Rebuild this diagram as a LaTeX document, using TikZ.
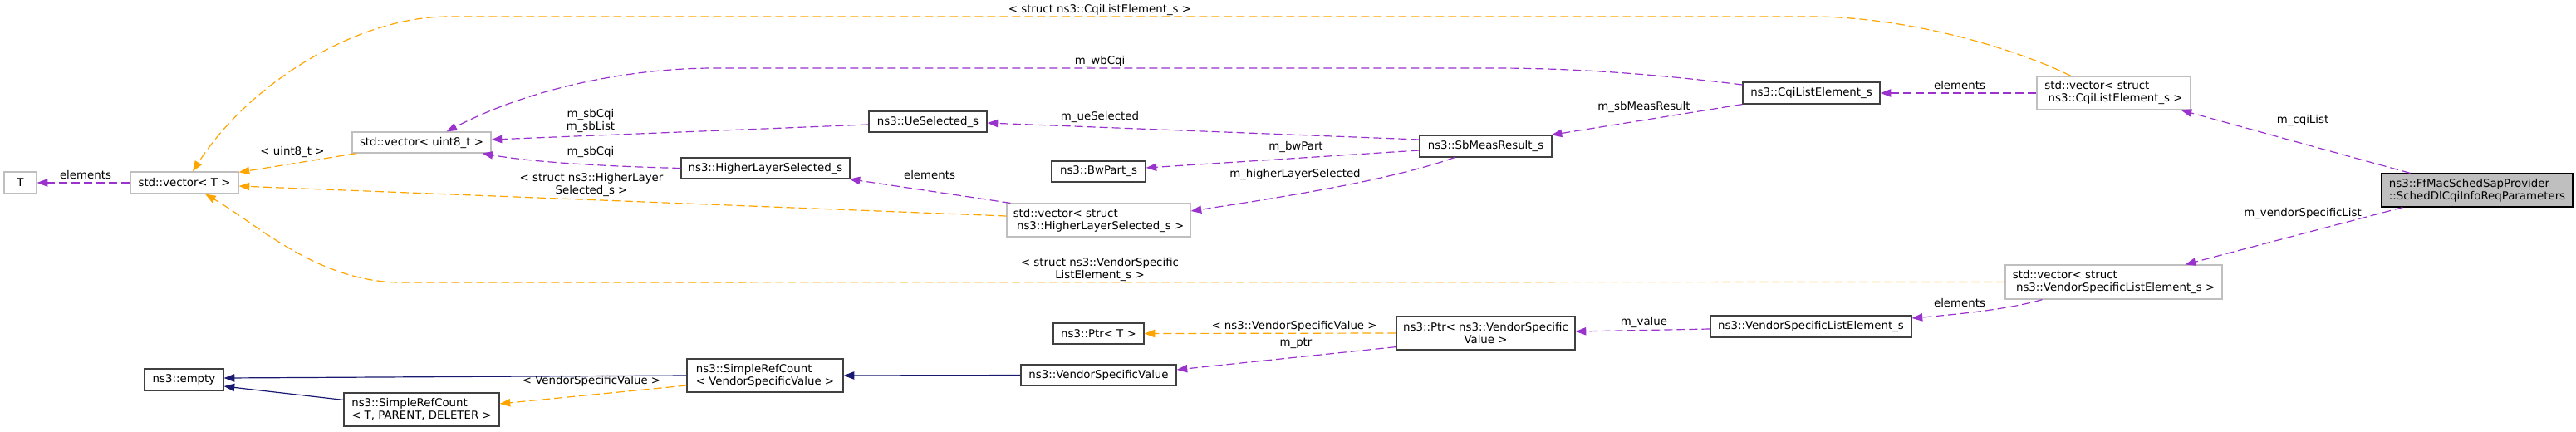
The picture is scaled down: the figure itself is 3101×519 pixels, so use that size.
\documentclass[tikz,border=0pt]{standalone}
\usepackage{fontspec}
\setmainfont{DejaVu Sans}
\usetikzlibrary{arrows.meta,calc}
\definecolor{pur}{HTML}{9A32CD}
\definecolor{org}{HTML}{FFA500}
\definecolor{nav}{HTML}{191970}
\definecolor{gbd}{HTML}{BFBFBF}
\definecolor{dbd}{HTML}{404040}
\begin{document}
\begin{tikzpicture}[x=0.75pt,y=-0.75pt,
  font=\fontsize{10}{11.25}\selectfont,
  sz/.style 2 args={minimum width=#1*0.75pt, minimum height=#2*0.75pt},
  cls/.style={draw=dbd, line width=0.9pt, inner sep=0pt, fill=white},
  tpl/.style={draw=gbd, line width=0.9pt, inner sep=0pt, fill=white},
  tip/.style={-{Triangle[length=9.5pt,width=7pt]}},
  pe/.style={draw=pur, line width=0.9pt, dash pattern=on 7.5pt off 3.75pt, tip},
  oe/.style={draw=org, line width=0.9pt, dash pattern=on 7.5pt off 3.75pt, tip},
  ne/.style={draw=nav, line width=0.9pt, tip},
  lab/.style={inner sep=0pt, align=center}]
\useasboundingbox (0,0) rectangle (3101,519);

% nodes
\node[tpl,sz={39}{26}] (T) at (24.5,220) {T};
\node[tpl,sz={130}{26}] (vecT) at (222,220) {std::vector< T >};
\node[tpl,sz={167}{25}] (u8) at (507.5,171.5) {std::vector< uint8\_t >};
\node[cls,sz={203}{25}] (hls) at (921.5,202.5) {ns3::HigherLayerSelected\_s};
\node[cls,sz={142}{25}] (ue) at (1117,146.5) {ns3::UeSelected\_s};
\node[cls,sz={113}{25}] (bw) at (1322.5,206.5) {ns3::BwPart\_s};
\node[tpl,sz={221}{40},align=left] (hlv) at (1322.5,265) {std::vector< struct\\\hspace*{3.2pt}ns3::HigherLayerSelected\_s >};
\node[cls,sz={109}{25}] (ptrT) at (1322.5,401.5) {ns3::Ptr< T >};
\node[cls,sz={187}{25}] (vsv) at (1322.5,451.5) {ns3::VendorSpecificValue};
\node[cls,sz={188}{40},align=left] (srcv) at (921,452) {ns3::SimpleRefCount\\< VendorSpecificValue >};
\node[cls,sz={187}{40},align=left] (srct) at (507.5,493) {ns3::SimpleRefCount\\< T, PARENT, DELETER >};
\node[cls,sz={95}{26}] (empty) at (221.5,457) {ns3::empty};
\node[cls,sz={159}{26}] (sb) at (1788.5,176) {ns3::SbMeasResult\_s};
\node[cls,sz={215}{40},align=center] (ptrv) at (1788.5,401) {ns3::Ptr< ns3::VendorSpecific\\Value >};
\node[cls,sz={165}{26}] (cqe) at (2180.5,112) {ns3::CqiListElement\_s};
\node[cls,sz={242}{26}] (vse) at (2180,393) {ns3::VendorSpecificListElement\_s};
\node[tpl,sz={185}{40},align=left] (cqv) at (2544.5,112) {std::vector< struct\\\hspace*{3.2pt}ns3::CqiListElement\_s >};
\node[tpl,sz={261}{41},align=left] (vslv) at (2544.5,339.5) {std::vector< struct\\\hspace*{3.2pt}ns3::VendorSpecificListElement\_s >};
\node[cls,draw=black,fill=gbd,sz={230}{40},align=left] (ff) at (2982,229) {ns3::FfMacSchedSapProvider\\::SchedDlCqiInfoReqParameters};

% edges
\draw[pe] (vecT.west) -- (T.east);
\node[lab] (l1) at (103,211) {elements};

\draw[oe] ($(u8.south west)+(6,0)$) -- ($(vecT.north east)+(0,1)$);
\node[lab] (l2) at (352,183) {< uint8\_t >};

\draw[oe] ($(hlv.west)+(0,-5)$) -- ($(vecT.east)+(0,4)$);
\node[lab] (l3) at (712,222) {< struct ns3::HigherLayer\\Selected\_s >};

\draw[oe] (vslv.west) -- (480,340) .. controls (380,338) and (310,270) .. ($(vecT.south)+(25,0)$);
\node[lab] (l4) at (1324,324.5) {< struct ns3::VendorSpecific\\ListElement\_s >};

\draw[oe] ($(cqv.north)+(-51.5,0)$) .. controls (2430,60) and (2300,20) .. (2180,20) -- (540,20) .. controls (430,20) and (300,100) .. ($(vecT.north)+(10,0)$);
\node[lab] (l5) at (1324,12) {< struct ns3::CqiListElement\_s >};

\draw[pe] ($(cqe.west)+(0,-10)$) .. controls (2000,90) and (1900,82) .. (1800,82) -- (860,82) .. controls (760,82) and (640,105) .. ($(u8.north)+(30,0)$);
\node[lab] (l6) at (1324,74) {m\_wbCqi};

\draw[pe] ($(ue.west)+(0,3.5)$) -- ($(u8.east)+(0,-3.5)$);
\node[lab] (l7) at (711,145.5) {m\_sbCqi\\m\_sbList};

\draw[pe] (hls.west) .. controls (720,200) and (640,195) .. ($(u8.south east)+(-11,0)$);
\node[lab] (l8) at (711,183) {m\_sbCqi};

\draw[pe] ($(hlv.north west)+(5,0)$) -- ($(hls.south east)+(-1,0)$);
\node[lab] (l9) at (1119,211) {elements};

\draw[pe] ($(sb.west)+(0,-8)$) -- ($(ue.east)+(0,1.5)$);
\node[lab] (l10) at (1324,141) {m\_ueSelected};

\draw[pe] ($(sb.west)+(0,5)$) -- ($(bw.east)+(0,-4.5)$);
\node[lab] (l11) at (1560,177) {m\_bwPart};

\draw[pe] ($(sb.south)+(-37.5,0)$) .. controls (1680,215) and (1560,235) .. ($(hlv.east)+(0,-11)$);
\node[lab] (l12) at (1559,210) {m\_higherLayerSelected};

\draw[pe] (cqe.south west) -- ($(sb.north east)+(-1,0)$);
\node[lab] (l13) at (1979,129) {m\_sbMeasResult};

\draw[pe] (cqv.west) -- (cqe.east);
\node[lab] (l14) at (2359,103) {elements};

\draw[pe] ($(ff.north west)+(35,0)$) -- ($(cqv.south east)+(-12,0)$);
\node[lab] (l15) at (2772,145) {m\_cqiList};

\draw[pe] ($(ff.south west)+(26,0)$) -- ($(vslv.north east)+(-45,0)$);
\node[lab] (l16) at (2772,257) {m\_vendorSpecificList};

\draw[pe] ($(vslv.south west)+(45,0)$) .. controls (2420,372) and (2360,378) .. ($(vse.east)+(0,-10)$);
\node[lab] (l17) at (2359,365) {elements};

\draw[pe] ($(vse.west)+(0,3)$) -- ($(ptrv.east)+(0,-2)$);
\node[lab] (l18) at (1979,388) {m\_value};

\draw[oe] (ptrv.west) -- (ptrT.east);
\node[lab] (l19) at (1558,393) {< ns3::VendorSpecificValue >};

\draw[pe] ($(ptrv.south west)+(0,-4)$) -- ($(vsv.east)+(0,-6.5)$);
\node[lab] (l20) at (1560,413) {m\_ptr};

\draw[ne] (vsv.west) -- (srcv.east);
\draw[ne] (srcv.west) -- ($(empty.east)+(0,-2)$);
\draw[ne] ($(srct.north west)+(0,9)$) -- ($(empty.east)+(0,8)$);
\draw[oe] ($(srcv.west)+(0,12)$) -- ($(srct.east)+(0,-7)$);
\node[lab] (l21) at (712,459) {< VendorSpecificValue >};
\end{tikzpicture}
\end{document}
